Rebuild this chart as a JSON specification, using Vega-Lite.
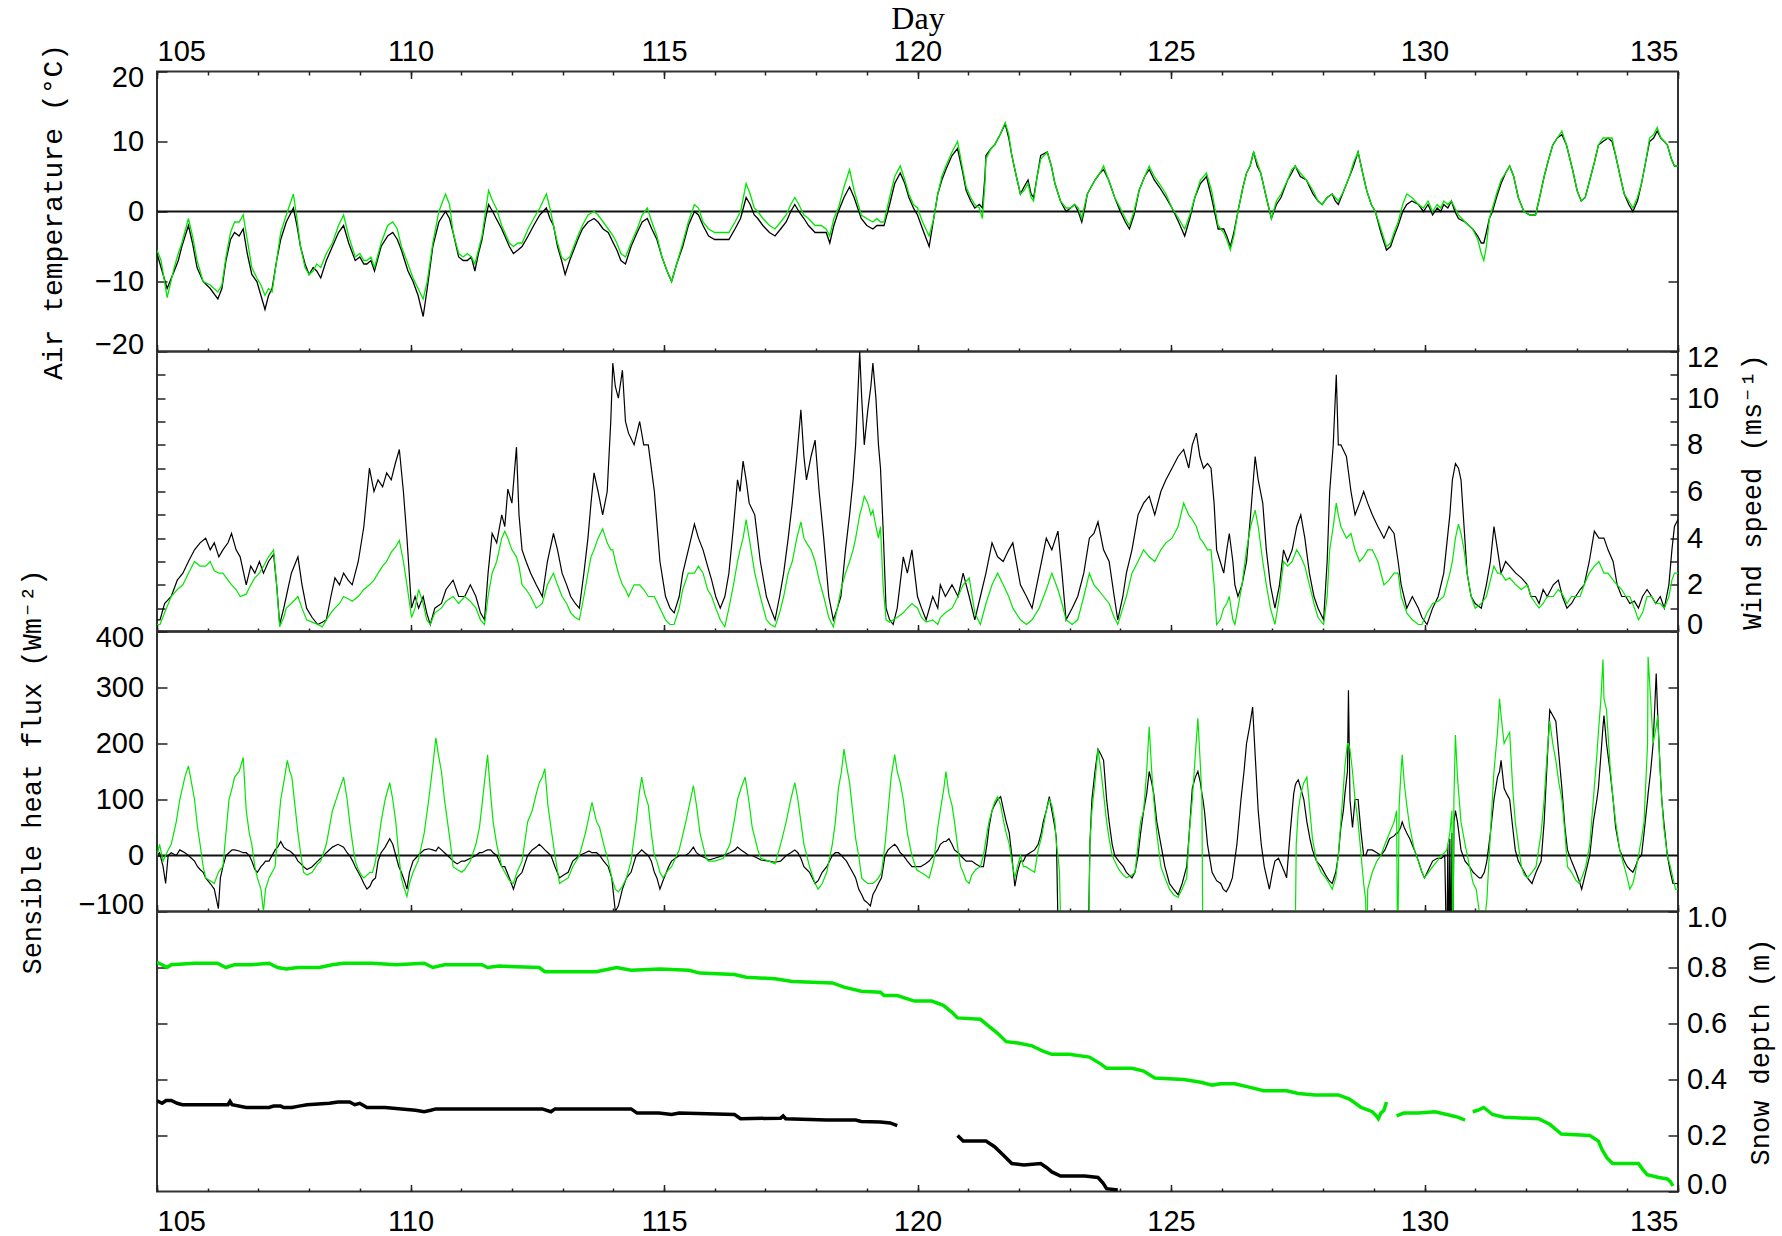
{
"$schema":"https://vega.github.io/schema/vega-lite/v6.json",
"background":"white",
"padding":{"left":17,"top":1.5,"right":4,"bottom":2},
"spacing":0,
"bounds":"flush",
"config":{
 "view":{"stroke":"#333","strokeWidth":2},
 "axis":{"domain":false,"grid":false,"labelFont":"Liberation Sans, Arial, sans-serif","labelFontSize":29,"labelColor":"#000","labelOverlap":false,"labelBound":false,"tickColor":"#222","tickWidth":1.5,"titleFont":"Liberation Mono, DejaVu Sans Mono, monospace","titleFontSize":27,"titleFontWeight":"normal","titleColor":"#000"}
},
"datasets":{
"temp":[
{"d":105.00,"k":-6,"g":-5.5},{"d":105.08,"k":-8,"g":-7},{"d":105.20,"k":-11,"g":-12.3},{"d":105.34,"k":-8.5,"g":-8},{"d":105.42,"k":-7,"g":-6},{"d":105.49,"k":-5,"g":-4.5},{"d":105.62,"k":-2,"g":-1},{"d":105.70,"k":-4.5,"g":-3.5},{"d":105.79,"k":-8,"g":-7},{"d":105.91,"k":-10,"g":-10},
{"d":106.05,"k":-11,"g":-10.5},{"d":106.20,"k":-12.5,"g":-11.5},{"d":106.28,"k":-11,"g":-10.5},{"d":106.36,"k":-7,"g":-6.5},{"d":106.45,"k":-4,"g":-3},{"d":106.53,"k":-3,"g":-1.5},{"d":106.62,"k":-3.5,"g":-1.5},{"d":106.70,"k":-2.5,"g":-0.5},{"d":106.78,"k":-6,"g":-4},{"d":106.87,"k":-9,"g":-8},{"d":106.97,"k":-10,"g":-9.5},
{"d":107.05,"k":-12,"g":-10.5},{"d":107.13,"k":-14,"g":-12},{"d":107.20,"k":-12,"g":-11},{"d":107.27,"k":-11,"g":-11.5},{"d":107.36,"k":-7,"g":-7},{"d":107.44,"k":-4,"g":-3},{"d":107.55,"k":-1.5,"g":-0.5},{"d":107.69,"k":0.5,"g":2.5},{"d":107.76,"k":-2,"g":-1},{"d":107.83,"k":-5,"g":-5},{"d":107.92,"k":-7.5,"g":-8},
{"d":108.00,"k":-9,"g":-9},{"d":108.08,"k":-8,"g":-8.5},{"d":108.15,"k":-8.5,"g":-7.5},{"d":108.23,"k":-9.5,"g":-8},{"d":108.34,"k":-7,"g":-6},{"d":108.46,"k":-5,"g":-4.5},{"d":108.58,"k":-3,"g":-2},{"d":108.68,"k":-2,"g":-0.5},{"d":108.78,"k":-4.5,"g":-3.5},{"d":108.91,"k":-7,"g":-6.5},
{"d":109.00,"k":-6.5,"g":-6},{"d":109.08,"k":-7.5,"g":-7},{"d":109.14,"k":-7.5,"g":-7},{"d":109.22,"k":-7,"g":-6.5},{"d":109.29,"k":-8.5,"g":-8},{"d":109.42,"k":-5,"g":-4.5},{"d":109.55,"k":-3.5,"g":-2},{"d":109.65,"k":-3,"g":-1.5},{"d":109.74,"k":-4,"g":-2.5},{"d":109.82,"k":-5.5,"g":-5},{"d":109.95,"k":-8.5,"g":-7.5},
{"d":110.05,"k":-10,"g":-9.5},{"d":110.15,"k":-12,"g":-11},{"d":110.25,"k":-15,"g":-12.5},{"d":110.33,"k":-11,"g":-10},{"d":110.44,"k":-5,"g":-4.5},{"d":110.56,"k":-1.5,"g":0},{"d":110.69,"k":0,"g":2.5},{"d":110.77,"k":-1,"g":1},{"d":110.84,"k":-3,"g":-3},{"d":110.95,"k":-6.5,"g":-6},
{"d":111.04,"k":-7,"g":-6.5},{"d":111.12,"k":-7,"g":-6},{"d":111.20,"k":-6.5,"g":-6.5},{"d":111.27,"k":-8.5,"g":-7.5},{"d":111.34,"k":-6,"g":-5.5},{"d":111.41,"k":-4,"g":-3.5},{"d":111.48,"k":-1,"g":0},{"d":111.54,"k":1,"g":3},{"d":111.62,"k":0,"g":1.5},{"d":111.69,"k":-1,"g":0.5},{"d":111.80,"k":-2.5,"g":-2},{"d":111.86,"k":-3.5,"g":-3},{"d":111.95,"k":-5,"g":-4.5},
{"d":112.03,"k":-6,"g":-5},{"d":112.12,"k":-5.5,"g":-4.5},{"d":112.20,"k":-5,"g":-4.5},{"d":112.32,"k":-3.5,"g":-2.5},{"d":112.43,"k":-2,"g":-1},{"d":112.55,"k":-0.5,"g":0.5},{"d":112.68,"k":0.5,"g":2.5},{"d":112.75,"k":-1,"g":0.5},{"d":112.82,"k":-2,"g":-2},{"d":112.90,"k":-5,"g":-4.5},{"d":112.98,"k":-7,"g":-6.5},
{"d":113.05,"k":-9,"g":-7},{"d":113.14,"k":-7,"g":-6.5},{"d":113.22,"k":-5.5,"g":-5},{"d":113.30,"k":-4,"g":-3.5},{"d":113.39,"k":-2.5,"g":-2},{"d":113.50,"k":-1.5,"g":-0.5},{"d":113.62,"k":-1,"g":0},{"d":113.70,"k":-1.5,"g":-0.5},{"d":113.80,"k":-2.5,"g":-1.5},{"d":113.90,"k":-3,"g":-2.5},
{"d":114.00,"k":-4.5,"g":-3.5},{"d":114.07,"k":-5.5,"g":-4.5},{"d":114.15,"k":-7,"g":-6},{"d":114.24,"k":-7.5,"g":-6.5},{"d":114.35,"k":-5,"g":-4.5},{"d":114.47,"k":-3,"g":-2.5},{"d":114.57,"k":-1.5,"g":-0.5},{"d":114.67,"k":-1,"g":0.5},{"d":114.76,"k":-2.5,"g":-1.5},{"d":114.86,"k":-4,"g":-3.5},{"d":114.96,"k":-6.5,"g":-6.5},
{"d":115.06,"k":-8.5,"g":-8.5},{"d":115.15,"k":-10,"g":-10},{"d":115.25,"k":-7.5,"g":-7.5},{"d":115.37,"k":-5,"g":-4.5},{"d":115.48,"k":-2,"g":-1.5},{"d":115.60,"k":0,"g":1},{"d":115.68,"k":-0.5,"g":0.5},{"d":115.77,"k":-2,"g":-1.5},{"d":115.88,"k":-3.5,"g":-2.5},
{"d":116.00,"k":-4,"g":-3},{"d":116.14,"k":-4,"g":-3},{"d":116.28,"k":-4,"g":-3},{"d":116.40,"k":-2.5,"g":-1.5},{"d":116.51,"k":-1,"g":0},{"d":116.62,"k":2,"g":4},{"d":116.70,"k":1,"g":2.5},{"d":116.78,"k":-0.5,"g":0.5},{"d":116.85,"k":-1,"g":0},{"d":116.95,"k":-2,"g":-1},
{"d":117.08,"k":-3,"g":-2},{"d":117.19,"k":-3.5,"g":-2.5},{"d":117.30,"k":-2.5,"g":-1.5},{"d":117.41,"k":-1.5,"g":-0.5},{"d":117.50,"k":0,"g":1},{"d":117.58,"k":1,"g":2},{"d":117.66,"k":0,"g":1},{"d":117.76,"k":-1,"g":-0.5},{"d":117.85,"k":-2,"g":-1},{"d":117.98,"k":-3,"g":-2},
{"d":118.10,"k":-3,"g":-2},{"d":118.20,"k":-3,"g":-2.5},{"d":118.27,"k":-4.5,"g":-3.5},{"d":118.35,"k":-2,"g":-1},{"d":118.44,"k":0,"g":0.5},{"d":118.55,"k":2,"g":3.5},{"d":118.66,"k":3.5,"g":6},{"d":118.75,"k":2,"g":3},{"d":118.89,"k":-1,"g":-0.5},
{"d":119.00,"k":-2,"g":-1},{"d":119.12,"k":-2.5,"g":-1.5},{"d":119.20,"k":-2,"g":-1},{"d":119.27,"k":-2,"g":-1.5},{"d":119.34,"k":-2,"g":-1.5},{"d":119.45,"k":1,"g":2},{"d":119.55,"k":4,"g":5},{"d":119.66,"k":5.5,"g":6.5},{"d":119.75,"k":4,"g":4.5},{"d":119.83,"k":2,"g":2.5},{"d":119.92,"k":0.5,"g":1},
{"d":120.00,"k":-0.5,"g":0.5},{"d":120.10,"k":-2.5,"g":-1.5},{"d":120.23,"k":-5,"g":-3.5},{"d":120.32,"k":-1,"g":-1},{"d":120.40,"k":2.5,"g":2.5},{"d":120.48,"k":4.5,"g":5},{"d":120.56,"k":6,"g":6.5},{"d":120.68,"k":8,"g":8.5},{"d":120.79,"k":9,"g":10},{"d":120.88,"k":6,"g":6.5},{"d":120.96,"k":3,"g":3.5},
{"d":121.05,"k":1.5,"g":2},{"d":121.13,"k":0.5,"g":1},{"d":121.22,"k":1,"g":0.5},{"d":121.28,"k":0.5,"g":-1},{"d":121.33,"k":5,"g":4},{"d":121.35,"k":8,"g":7.5},{"d":121.45,"k":9,"g":9},{"d":121.52,"k":9.5,"g":9.5},{"d":121.63,"k":11,"g":11},{"d":121.73,"k":12.5,"g":12.7},{"d":121.80,"k":10.5,"g":11},{"d":121.86,"k":8,"g":8},{"d":121.95,"k":5,"g":5},
{"d":122.03,"k":2.5,"g":2.5},{"d":122.10,"k":3.5,"g":3},{"d":122.18,"k":4.5,"g":4},{"d":122.24,"k":2.5,"g":2},{"d":122.29,"k":2,"g":1.5},{"d":122.36,"k":5,"g":5},{"d":122.43,"k":8,"g":7.5},{"d":122.56,"k":8.5,"g":8.5},{"d":122.64,"k":6.5,"g":6.5},{"d":122.71,"k":4,"g":4},{"d":122.82,"k":1.5,"g":1.5},{"d":122.93,"k":0,"g":0.5},
{"d":123.02,"k":0.5,"g":0.5},{"d":123.10,"k":1,"g":1},{"d":123.17,"k":0,"g":0.5},{"d":123.24,"k":-1.5,"g":-1},{"d":123.30,"k":0.5,"g":1},{"d":123.35,"k":2.5,"g":2.5},{"d":123.50,"k":4.5,"g":4.5},{"d":123.60,"k":5.5,"g":5.5},{"d":123.67,"k":6,"g":6.5},{"d":123.77,"k":4.5,"g":4.5},{"d":123.89,"k":2,"g":2},
{"d":124.00,"k":0,"g":0.5},{"d":124.10,"k":-1.5,"g":-1},{"d":124.18,"k":-2.5,"g":-2},{"d":124.27,"k":-0.5,"g":0},{"d":124.37,"k":3,"g":3},{"d":124.48,"k":5,"g":5},{"d":124.57,"k":6,"g":6.5},{"d":124.67,"k":4.5,"g":5},{"d":124.77,"k":3.5,"g":4},{"d":124.90,"k":2,"g":2.5},
{"d":125.02,"k":0.5,"g":0.5},{"d":125.15,"k":-1.5,"g":-1},{"d":125.27,"k":-3.5,"g":-2.5},{"d":125.37,"k":-1,"g":-0.5},{"d":125.47,"k":2,"g":2},{"d":125.58,"k":4,"g":4.5},{"d":125.70,"k":5,"g":5.5},{"d":125.80,"k":2,"g":3},{"d":125.93,"k":-2.5,"g":-2},
{"d":126.04,"k":-2.5,"g":-3},{"d":126.10,"k":-3.5,"g":-4},{"d":126.17,"k":-5,"g":-5.5},{"d":126.24,"k":-3,"g":-3.5},{"d":126.32,"k":0,"g":0},{"d":126.42,"k":3.5,"g":3.5},{"d":126.49,"k":5.5,"g":5.5},{"d":126.56,"k":6.5,"g":6.5},{"d":126.63,"k":8.5,"g":8.5},{"d":126.70,"k":6.5,"g":7},{"d":126.77,"k":5.5,"g":5.5},{"d":126.88,"k":2,"g":2},{"d":126.98,"k":-1,"g":-1},
{"d":127.08,"k":1,"g":1.5},{"d":127.17,"k":2,"g":2.5},{"d":127.30,"k":4.5,"g":4.5},{"d":127.38,"k":5.5,"g":6},{"d":127.45,"k":6.5,"g":6.5},{"d":127.55,"k":5,"g":5.5},{"d":127.67,"k":4.5,"g":4.5},{"d":127.80,"k":2.5,"g":3},{"d":127.90,"k":1.5,"g":1.5},{"d":127.98,"k":1,"g":1},
{"d":128.08,"k":2,"g":2},{"d":128.18,"k":2.5,"g":2.5},{"d":128.24,"k":1.5,"g":2},{"d":128.30,"k":1,"g":1.5},{"d":128.41,"k":3,"g":3},{"d":128.52,"k":5,"g":5},{"d":128.60,"k":6.5,"g":7},{"d":128.69,"k":8.5,"g":8.5},{"d":128.78,"k":5.5,"g":5.5},{"d":128.86,"k":3,"g":3},{"d":128.95,"k":1,"g":1},
{"d":129.03,"k":0,"g":0},{"d":129.14,"k":-3,"g":-2.5},{"d":129.25,"k":-5.5,"g":-5},{"d":129.33,"k":-5,"g":-4.5},{"d":129.40,"k":-3.5,"g":-3},{"d":129.48,"k":-2,"g":-1.5},{"d":129.57,"k":0,"g":1},{"d":129.65,"k":1,"g":2.5},{"d":129.75,"k":1.5,"g":2},{"d":129.88,"k":1,"g":1},{"d":129.98,"k":0,"g":0.5},
{"d":130.07,"k":1,"g":1.5},{"d":130.16,"k":-0.5,"g":0},{"d":130.25,"k":0.5,"g":1},{"d":130.32,"k":0,"g":0.5},{"d":130.38,"k":1,"g":1.5},{"d":130.46,"k":0.5,"g":1},{"d":130.53,"k":1.5,"g":1.5},{"d":130.60,"k":0,"g":0.5},{"d":130.67,"k":-1,"g":-0.5},{"d":130.80,"k":-1.5,"g":-1.5},{"d":130.95,"k":-2.5,"g":-2.5},
{"d":131.05,"k":-3.5,"g":-4},{"d":131.12,"k":-4.5,"g":-6},{"d":131.17,"k":-4.5,"g":-7},{"d":131.22,"k":-3,"g":-5},{"d":131.28,"k":-1,"g":-1},{"d":131.34,"k":0,"g":0.5},{"d":131.42,"k":2,"g":2.5},{"d":131.51,"k":4,"g":4.5},{"d":131.60,"k":5.5,"g":5.5},{"d":131.68,"k":6.5,"g":6.5},{"d":131.76,"k":5,"g":5},{"d":131.85,"k":2,"g":2},{"d":131.96,"k":0,"g":0},
{"d":132.08,"k":-0.5,"g":-0.5},{"d":132.19,"k":-0.5,"g":-0.5},{"d":132.27,"k":2,"g":2},{"d":132.36,"k":5,"g":5},{"d":132.45,"k":7.5,"g":7.5},{"d":132.53,"k":9.5,"g":9.5},{"d":132.62,"k":10.5,"g":10.5},{"d":132.71,"k":11,"g":11.5},{"d":132.80,"k":9.5,"g":9.5},{"d":132.92,"k":6,"g":6},
{"d":133.01,"k":3,"g":3},{"d":133.09,"k":1.5,"g":1.5},{"d":133.17,"k":2,"g":2},{"d":133.26,"k":4.5,"g":4.5},{"d":133.35,"k":7,"g":7},{"d":133.43,"k":9.5,"g":9.5},{"d":133.52,"k":10,"g":10.5},{"d":133.62,"k":10.5,"g":10.5},{"d":133.70,"k":10,"g":10.5},{"d":133.77,"k":8,"g":8},{"d":133.86,"k":5,"g":5},{"d":133.94,"k":2.5,"g":2.5},
{"d":134.03,"k":1,"g":1.5},{"d":134.11,"k":0,"g":0.5},{"d":134.20,"k":1.5,"g":2},{"d":134.28,"k":4,"g":4},{"d":134.36,"k":7,"g":7},{"d":134.44,"k":10,"g":10.5},{"d":134.52,"k":10.5,"g":11},{"d":134.59,"k":11.5,"g":12},{"d":134.66,"k":10.5,"g":10.5},{"d":134.73,"k":10,"g":10},{"d":134.79,"k":9.5,"g":9.5},{"d":134.87,"k":7.5,"g":7.5},{"d":134.93,"k":6.5,"g":6.5},{"d":135.00,"k":6.5,"g":6.5}
],
"wind":[
{"d":105.00,"k":0.5,"g":0.3},{"d":105.06,"k":0.5,"g":0.3},{"d":105.15,"k":1.2,"g":0.8},{"d":105.28,"k":1.5,"g":1.5},{"d":105.40,"k":2.2,"g":1.8},{"d":105.51,"k":2.5,"g":2},{"d":105.62,"k":3,"g":2.5},{"d":105.74,"k":3.5,"g":3},{"d":105.85,"k":3.8,"g":2.8},{"d":105.96,"k":4,"g":2.8},
{"d":106.05,"k":3.5,"g":3},{"d":106.13,"k":3.8,"g":2.6},{"d":106.22,"k":3.2,"g":2.5},{"d":106.30,"k":3.5,"g":2.5},{"d":106.40,"k":3.8,"g":2.2},{"d":106.47,"k":4.2,"g":2},{"d":106.56,"k":3.5,"g":1.8},{"d":106.64,"k":3.2,"g":1.5},{"d":106.76,"k":2,"g":1.6},{"d":106.85,"k":2.8,"g":2},{"d":106.93,"k":2.5,"g":2.3},
{"d":107.02,"k":3,"g":2.5},{"d":107.10,"k":2.5,"g":2.8},{"d":107.20,"k":3,"g":3.2},{"d":107.30,"k":3.3,"g":3.5},{"d":107.36,"k":2,"g":2},{"d":107.42,"k":0.3,"g":0.2},{"d":107.50,"k":1,"g":0.6},{"d":107.55,"k":1.5,"g":1},{"d":107.65,"k":2.5,"g":1.2},{"d":107.78,"k":3.2,"g":1.5},{"d":107.86,"k":2,"g":1},{"d":107.95,"k":1,"g":0.5},
{"d":108.06,"k":0.6,"g":0.4},{"d":108.17,"k":0.3,"g":0.3},{"d":108.26,"k":0.4,"g":0.2},{"d":108.34,"k":0.5,"g":0.5},{"d":108.43,"k":1.5,"g":0.8},{"d":108.51,"k":2.3,"g":1},{"d":108.60,"k":2,"g":1.2},{"d":108.68,"k":2.5,"g":1.5},{"d":108.77,"k":2.2,"g":1.4},{"d":108.85,"k":2,"g":1.3},{"d":108.97,"k":3,"g":1.5},
{"d":109.08,"k":4.5,"g":1.8},{"d":109.19,"k":7,"g":2},{"d":109.28,"k":6,"g":2.2},{"d":109.36,"k":6.5,"g":2.5},{"d":109.45,"k":6.2,"g":2.8},{"d":109.53,"k":6.8,"g":3},{"d":109.62,"k":6.5,"g":3.4},{"d":109.70,"k":7.2,"g":3.6},{"d":109.78,"k":7.8,"g":3.9},{"d":109.86,"k":6,"g":3},{"d":109.93,"k":4,"g":2},
{"d":110.02,"k":1,"g":0.6},{"d":110.09,"k":1.5,"g":1},{"d":110.16,"k":1,"g":1.8},{"d":110.25,"k":1.5,"g":1.2},{"d":110.32,"k":0.8,"g":0.5},{"d":110.39,"k":0.3,"g":0.3},{"d":110.48,"k":1,"g":0.8},{"d":110.61,"k":1.2,"g":1},{"d":110.70,"k":1.8,"g":1.3},{"d":110.84,"k":2.2,"g":1.5},{"d":110.95,"k":1.5,"g":1.2},
{"d":111.07,"k":1.5,"g":1.5},{"d":111.18,"k":2,"g":1.3},{"d":111.29,"k":1.5,"g":1},{"d":111.38,"k":0.8,"g":0.5},{"d":111.46,"k":0.5,"g":0.3},{"d":111.53,"k":2.5,"g":1.5},{"d":111.61,"k":4.2,"g":2.5},{"d":111.70,"k":3.8,"g":3},{"d":111.80,"k":5,"g":4},{"d":111.86,"k":4.5,"g":4.3},{"d":111.92,"k":6.1,"g":4},
{"d":112.00,"k":5.5,"g":3.5},{"d":112.09,"k":7.9,"g":3.2},{"d":112.14,"k":5,"g":2.8},{"d":112.20,"k":3.5,"g":2},{"d":112.28,"k":3,"g":1.8},{"d":112.37,"k":2.5,"g":1.5},{"d":112.48,"k":2,"g":1},{"d":112.60,"k":1.5,"g":1.2},{"d":112.70,"k":3,"g":2},{"d":112.82,"k":4.2,"g":2.5},{"d":112.90,"k":3.5,"g":2},{"d":112.99,"k":2.5,"g":1.5},
{"d":113.08,"k":2,"g":1.2},{"d":113.16,"k":1.5,"g":0.8},{"d":113.25,"k":1.2,"g":0.6},{"d":113.33,"k":1,"g":0.5},{"d":113.42,"k":2.5,"g":1.5},{"d":113.50,"k":4,"g":2.5},{"d":113.56,"k":5.5,"g":3.2},{"d":113.62,"k":6.8,"g":3.5},{"d":113.70,"k":6,"g":4},{"d":113.79,"k":5,"g":4.4},{"d":113.88,"k":6,"g":3.8},{"d":113.95,"k":9,"g":3.5},{"d":113.99,"k":11.5,"g":3.5},
{"d":114.04,"k":10.5,"g":3},{"d":114.10,"k":10,"g":2.5},{"d":114.18,"k":11.2,"g":2},{"d":114.24,"k":9,"g":1.8},{"d":114.30,"k":8.5,"g":1.5},{"d":114.41,"k":8,"g":2},{"d":114.52,"k":9,"g":2},{"d":114.60,"k":8,"g":1.8},{"d":114.69,"k":8,"g":1.5},{"d":114.75,"k":7,"g":1.5},{"d":114.81,"k":6,"g":1.5},{"d":114.92,"k":3,"g":1},
{"d":115.03,"k":1.5,"g":0.5},{"d":115.12,"k":1,"g":0.3},{"d":115.20,"k":0.8,"g":0.3},{"d":115.30,"k":1.5,"g":1},{"d":115.37,"k":2.5,"g":1.8},{"d":115.48,"k":3.5,"g":2.5},{"d":115.60,"k":4.6,"g":2.5},{"d":115.68,"k":4,"g":2.8},{"d":115.77,"k":3.5,"g":2.5},{"d":115.86,"k":2.8,"g":1.8},{"d":115.94,"k":2.2,"g":1.5},
{"d":116.02,"k":1.5,"g":1},{"d":116.11,"k":1,"g":0.5},{"d":116.20,"k":1.5,"g":0.2},{"d":116.28,"k":2.5,"g":1},{"d":116.37,"k":4.5,"g":2},{"d":116.45,"k":6.5,"g":3},{"d":116.50,"k":6,"g":3.5},{"d":116.56,"k":7.3,"g":4},{"d":116.62,"k":6.5,"g":4.8},{"d":116.68,"k":5.5,"g":4},{"d":116.79,"k":5,"g":2.5},{"d":116.90,"k":3,"g":1.5},
{"d":117.02,"k":1.5,"g":0.5},{"d":117.10,"k":1,"g":0.3},{"d":117.19,"k":0.5,"g":0.2},{"d":117.28,"k":1.5,"g":0.8},{"d":117.36,"k":2.5,"g":1.5},{"d":117.45,"k":4,"g":2.5},{"d":117.53,"k":5.5,"g":3},{"d":117.62,"k":7.5,"g":4},{"d":117.70,"k":9.5,"g":4.7},{"d":117.76,"k":7.5,"g":4},{"d":117.81,"k":6.5,"g":3.8},{"d":117.90,"k":7.5,"g":3.5},{"d":117.98,"k":8.2,"g":3},
{"d":118.06,"k":6,"g":2.2},{"d":118.15,"k":4,"g":1.5},{"d":118.25,"k":1.5,"g":0.6},{"d":118.34,"k":0.5,"g":0.2},{"d":118.42,"k":1,"g":1},{"d":118.49,"k":1.5,"g":1.8},{"d":118.58,"k":3.5,"g":2.5},{"d":118.66,"k":5,"g":3},{"d":118.73,"k":6.5,"g":3.5},{"d":118.78,"k":8,"g":4},{"d":118.82,"k":10,"g":4.5},{"d":118.86,"k":12,"g":5},{"d":118.90,"k":10,"g":5.3},{"d":118.95,"k":8,"g":5.8},
{"d":119.02,"k":9.5,"g":5.5},{"d":119.08,"k":10.5,"g":5},{"d":119.12,"k":11.5,"g":5.2},{"d":119.18,"k":10,"g":4.5},{"d":119.23,"k":8,"g":4},{"d":119.27,"k":7,"g":4.5},{"d":119.32,"k":4.5,"g":2},{"d":119.38,"k":1,"g":0.5},{"d":119.45,"k":0.5,"g":0.4},{"d":119.52,"k":0.3,"g":0.5},{"d":119.60,"k":1,"g":0.6},{"d":119.72,"k":3.2,"g":0.8},{"d":119.80,"k":2.5,"g":1},{"d":119.89,"k":3.5,"g":1.2},
{"d":120.00,"k":1.5,"g":1},{"d":120.08,"k":1,"g":0.6},{"d":120.17,"k":0.5,"g":0.4},{"d":120.30,"k":1.5,"g":0.5},{"d":120.40,"k":1,"g":0.3},{"d":120.45,"k":2,"g":0.6},{"d":120.55,"k":1.5,"g":0.8},{"d":120.68,"k":2,"g":1},{"d":120.80,"k":1.5,"g":1.5},{"d":120.90,"k":2.5,"g":2},
{"d":121.02,"k":1.5,"g":2.3},{"d":121.13,"k":0.5,"g":0.8},{"d":121.24,"k":1.5,"g":0.3},{"d":121.35,"k":2.5,"g":1.2},{"d":121.47,"k":3.8,"g":2},{"d":121.58,"k":3.2,"g":2.5},{"d":121.69,"k":3,"g":2},{"d":121.80,"k":3.5,"g":1.5},{"d":121.88,"k":3.8,"g":1},
{"d":122.03,"k":2,"g":0.5},{"d":122.15,"k":1.5,"g":0.3},{"d":122.26,"k":1,"g":0.5},{"d":122.40,"k":2.5,"g":1},{"d":122.54,"k":4,"g":1.8},{"d":122.65,"k":3.5,"g":2.5},{"d":122.77,"k":4.3,"g":1.8},{"d":122.85,"k":2.5,"g":1.2},{"d":122.93,"k":0.5,"g":0.5},
{"d":123.05,"k":1,"g":0.3},{"d":123.16,"k":1.5,"g":0.5},{"d":123.28,"k":2.5,"g":1.5},{"d":123.39,"k":4,"g":2.5},{"d":123.48,"k":4.2,"g":2},{"d":123.56,"k":4.7,"g":1.8},{"d":123.67,"k":3.5,"g":1.5},{"d":123.78,"k":3,"g":1.2},{"d":123.88,"k":1.5,"g":0.6},{"d":123.95,"k":0.5,"g":0.3},
{"d":124.05,"k":1.5,"g":1},{"d":124.12,"k":2.5,"g":1.5},{"d":124.23,"k":3.5,"g":2.5},{"d":124.35,"k":5,"g":3},{"d":124.46,"k":5.5,"g":3.5},{"d":124.57,"k":5.8,"g":3.2},{"d":124.68,"k":5,"g":3},{"d":124.80,"k":6,"g":3.5},{"d":124.90,"k":6.5,"g":3.8},
{"d":125.02,"k":7,"g":4},{"d":125.14,"k":7.5,"g":4.5},{"d":125.25,"k":7.8,"g":5.5},{"d":125.35,"k":7,"g":5},{"d":125.42,"k":8,"g":4.8},{"d":125.50,"k":8.5,"g":4.5},{"d":125.57,"k":7.5,"g":4},{"d":125.64,"k":7,"g":3.8},{"d":125.72,"k":7.2,"g":3.5},{"d":125.79,"k":7,"g":3.5},{"d":125.85,"k":5.5,"g":2},{"d":125.90,"k":3.5,"g":0.3},{"d":125.97,"k":3,"g":0.5},
{"d":126.04,"k":2.5,"g":1},{"d":126.10,"k":3.5,"g":1.2},{"d":126.15,"k":4.2,"g":1.5},{"d":126.22,"k":3,"g":0.5},{"d":126.26,"k":2,"g":0.3},{"d":126.32,"k":1.5,"g":1},{"d":126.40,"k":2,"g":2},{"d":126.49,"k":3,"g":3.5},{"d":126.57,"k":5,"g":4.5},{"d":126.66,"k":7.5,"g":5.2},{"d":126.72,"k":6.5,"g":4.5},{"d":126.81,"k":5.5,"g":3},{"d":126.88,"k":3.5,"g":2},{"d":126.96,"k":2,"g":1},
{"d":127.05,"k":1,"g":0.3},{"d":127.14,"k":2,"g":1.5},{"d":127.22,"k":3.5,"g":3},{"d":127.30,"k":3,"g":2.8},{"d":127.39,"k":3.5,"g":3},{"d":127.48,"k":4.5,"g":3.5},{"d":127.56,"k":5,"g":3.2},{"d":127.64,"k":4,"g":2.8},{"d":127.73,"k":2.5,"g":2},{"d":127.82,"k":1.5,"g":1.2},{"d":127.90,"k":1,"g":0.6},
{"d":128.01,"k":0.5,"g":0.3},{"d":128.08,"k":3,"g":1.5},{"d":128.13,"k":6,"g":3.5},{"d":128.20,"k":8,"g":4.5},{"d":128.26,"k":11,"g":5.5},{"d":128.30,"k":8,"g":5},{"d":128.35,"k":8,"g":4.5},{"d":128.46,"k":7.5,"g":4},{"d":128.55,"k":6,"g":4.2},{"d":128.63,"k":5,"g":3.5},{"d":128.72,"k":5.5,"g":3},{"d":128.80,"k":6,"g":3.2},{"d":128.88,"k":5.5,"g":3.5},{"d":128.97,"k":5,"g":3.5},
{"d":129.08,"k":4.5,"g":3},{"d":129.20,"k":4,"g":2},{"d":129.30,"k":4.5,"g":2.2},{"d":129.40,"k":4.2,"g":2.5},{"d":129.48,"k":3,"g":2.5},{"d":129.54,"k":2,"g":1.5},{"d":129.65,"k":1,"g":0.8},{"d":129.76,"k":1.5,"g":0.5},{"d":129.88,"k":1,"g":0.3},{"d":129.95,"k":0.6,"g":0.3},
{"d":130.05,"k":0.3,"g":0.8},{"d":130.16,"k":1,"g":1.2},{"d":130.27,"k":1.5,"g":1.3},{"d":130.38,"k":2.5,"g":1.5},{"d":130.50,"k":5,"g":2.5},{"d":130.55,"k":6.5,"g":3},{"d":130.61,"k":7.2,"g":4},{"d":130.67,"k":7,"g":4.6},{"d":130.72,"k":6.5,"g":4.2},{"d":130.78,"k":4.5,"g":3.5},{"d":130.84,"k":2.5,"g":2.5},{"d":130.92,"k":1.5,"g":1.5},
{"d":131.00,"k":1.2,"g":1},{"d":131.12,"k":1,"g":1.2},{"d":131.22,"k":2,"g":1.5},{"d":131.30,"k":3,"g":2.2},{"d":131.37,"k":4.5,"g":2.8},{"d":131.44,"k":3.5,"g":2.5},{"d":131.51,"k":2.5,"g":2.5},{"d":131.60,"k":3,"g":2.2},{"d":131.68,"k":2.8,"g":2.3},{"d":131.80,"k":2.5,"g":2},{"d":131.91,"k":2.3,"g":1.8},
{"d":132.03,"k":2,"g":2},{"d":132.10,"k":1.5,"g":1.5},{"d":132.19,"k":1.5,"g":1.2},{"d":132.26,"k":1.2,"g":1},{"d":132.34,"k":1.8,"g":1.2},{"d":132.42,"k":1.5,"g":1.5},{"d":132.54,"k":2,"g":1.5},{"d":132.64,"k":2.2,"g":1.8},{"d":132.72,"k":1.5,"g":1.6},{"d":132.81,"k":1,"g":1.2},{"d":132.90,"k":1.2,"g":1.5},{"d":132.98,"k":1.5,"g":1.5},
{"d":133.07,"k":1.8,"g":1.5},{"d":133.15,"k":2,"g":2},{"d":133.25,"k":3,"g":2.5},{"d":133.35,"k":4.3,"g":2.8},{"d":133.44,"k":4,"g":3},{"d":133.54,"k":4,"g":2.5},{"d":133.62,"k":3.5,"g":2.5},{"d":133.72,"k":3,"g":2.2},{"d":133.80,"k":2,"g":2},{"d":133.89,"k":1.5,"g":1.8},{"d":133.97,"k":1.5,"g":1.5},
{"d":134.05,"k":1.2,"g":1.5},{"d":134.14,"k":1.3,"g":1},{"d":134.22,"k":1,"g":0.5},{"d":134.30,"k":1.5,"g":0.8},{"d":134.39,"k":1.8,"g":1.5},{"d":134.48,"k":1.5,"g":1.5},{"d":134.56,"k":1.2,"g":1.2},{"d":134.65,"k":1.5,"g":1.2},{"d":134.73,"k":1,"g":1},{"d":134.82,"k":2,"g":1.5},{"d":134.88,"k":3.5,"g":2.2},{"d":134.93,"k":4.5,"g":2.5},{"d":135.00,"k":4.8,"g":2.5}
],
"flux":[
{"d":105.00,"k":0,"g":0},{"d":105.05,"k":5,"g":20},{"d":105.12,"k":-20,"g":-10},{"d":105.17,"k":-50,"g":0},{"d":105.22,"k":0,"g":10},{"d":105.28,"k":5,"g":20},{"d":105.38,"k":0,"g":60},{"d":105.45,"k":10,"g":100},{"d":105.55,"k":5,"g":140},{"d":105.62,"k":0,"g":160},{"d":105.68,"k":-5,"g":130},{"d":105.74,"k":-10,"g":100},{"d":105.80,"k":-20,"g":50},{"d":105.85,"k":-25,"g":20},{"d":105.91,"k":-30,"g":-20},{"d":105.96,"k":-40,"g":-40},
{"d":106.05,"k":-50,"g":-45},{"d":106.13,"k":-60,"g":-50},{"d":106.21,"k":-95,"g":-30},{"d":106.25,"k":-40,"g":-25},{"d":106.30,"k":-20,"g":-20},{"d":106.36,"k":0,"g":40},{"d":106.42,"k":5,"g":100},{"d":106.48,"k":10,"g":120},{"d":106.53,"k":10,"g":140},{"d":106.62,"k":8,"g":150},{"d":106.70,"k":5,"g":175},{"d":106.76,"k":5,"g":80},{"d":106.82,"k":0,"g":40},{"d":106.87,"k":-10,"g":20},{"d":106.93,"k":-25,"g":-20},{"d":106.98,"k":-30,"g":-40},
{"d":107.05,"k":-20,"g":-60},{"d":107.10,"k":-15,"g":-100},{"d":107.14,"k":-10,"g":-60},{"d":107.21,"k":-10,"g":-40},{"d":107.27,"k":0,"g":-30},{"d":107.33,"k":10,"g":-20},{"d":107.38,"k":15,"g":40},{"d":107.44,"k":25,"g":100},{"d":107.50,"k":15,"g":130},{"d":107.57,"k":10,"g":170},{"d":107.62,"k":8,"g":150},{"d":107.66,"k":5,"g":140},{"d":107.72,"k":0,"g":90},{"d":107.78,"k":-10,"g":40},{"d":107.84,"k":-15,"g":0},{"d":107.89,"k":-20,"g":-30},{"d":107.96,"k":-25,"g":-35},
{"d":108.06,"k":-20,"g":-30},{"d":108.17,"k":-10,"g":-15},{"d":108.23,"k":-5,"g":-10},{"d":108.34,"k":5,"g":20},{"d":108.46,"k":15,"g":80},{"d":108.57,"k":20,"g":110},{"d":108.68,"k":15,"g":140},{"d":108.75,"k":5,"g":100},{"d":108.80,"k":0,"g":60},{"d":108.86,"k":-10,"g":20},{"d":108.91,"k":-20,"g":-10},{"d":108.97,"k":-30,"g":-25},
{"d":109.03,"k":-40,"g":-35},{"d":109.08,"k":-50,"g":-40},{"d":109.14,"k":-60,"g":-35},{"d":109.20,"k":-55,"g":-30},{"d":109.25,"k":-45,"g":-30},{"d":109.31,"k":-40,"g":-10},{"d":109.36,"k":-10,"g":20},{"d":109.42,"k":5,"g":60},{"d":109.50,"k":15,"g":100},{"d":109.59,"k":30,"g":130},{"d":109.65,"k":20,"g":100},{"d":109.71,"k":0,"g":60},{"d":109.77,"k":-20,"g":0},{"d":109.82,"k":-30,"g":-40},{"d":109.88,"k":-45,"g":-60},{"d":109.93,"k":-60,"g":-73},{"d":109.98,"k":-30,"g":-50},
{"d":110.05,"k":-10,"g":-30},{"d":110.15,"k":0,"g":-10},{"d":110.27,"k":10,"g":40},{"d":110.36,"k":12,"g":100},{"d":110.44,"k":10,"g":160},{"d":110.50,"k":8,"g":210},{"d":110.55,"k":15,"g":180},{"d":110.61,"k":10,"g":150},{"d":110.67,"k":5,"g":100},{"d":110.73,"k":0,"g":60},{"d":110.79,"k":-5,"g":20},{"d":110.84,"k":-10,"g":-20},{"d":110.92,"k":-15,"g":-25},
{"d":111.01,"k":-10,"g":-30},{"d":111.07,"k":-10,"g":-25},{"d":111.18,"k":-5,"g":-10},{"d":111.29,"k":0,"g":20},{"d":111.36,"k":5,"g":50},{"d":111.41,"k":5,"g":90},{"d":111.47,"k":8,"g":140},{"d":111.52,"k":10,"g":180},{"d":111.58,"k":10,"g":110},{"d":111.63,"k":5,"g":60},{"d":111.70,"k":0,"g":20},{"d":111.80,"k":-20,"g":-20},{"d":111.86,"k":-20,"g":-30},{"d":111.95,"k":-40,"g":-45},
{"d":112.03,"k":-60,"g":-50},{"d":112.10,"k":-40,"g":-30},{"d":112.20,"k":-30,"g":-10},{"d":112.31,"k":0,"g":60},{"d":112.40,"k":10,"g":80},{"d":112.48,"k":15,"g":110},{"d":112.54,"k":20,"g":130},{"d":112.60,"k":15,"g":140},{"d":112.65,"k":10,"g":155},{"d":112.71,"k":5,"g":90},{"d":112.77,"k":0,"g":50},{"d":112.85,"k":-20,"g":0},{"d":112.94,"k":-40,"g":-50},
{"d":113.02,"k":-35,"g":-45},{"d":113.11,"k":-30,"g":-40},{"d":113.20,"k":-10,"g":-20},{"d":113.33,"k":0,"g":0},{"d":113.45,"k":5,"g":40},{"d":113.52,"k":8,"g":70},{"d":113.58,"k":5,"g":95},{"d":113.67,"k":5,"g":60},{"d":113.73,"k":0,"g":50},{"d":113.81,"k":-10,"g":20},{"d":113.90,"k":-20,"g":-10},{"d":113.97,"k":-40,"g":-40},
{"d":114.04,"k":-100,"g":-60},{"d":114.10,"k":-90,"g":-65},{"d":114.18,"k":-60,"g":-55},{"d":114.26,"k":-40,"g":-40},{"d":114.35,"k":-30,"g":-10},{"d":114.45,"k":0,"g":60},{"d":114.51,"k":5,"g":110},{"d":114.56,"k":10,"g":140},{"d":114.62,"k":5,"g":110},{"d":114.69,"k":0,"g":90},{"d":114.75,"k":-10,"g":40},{"d":114.81,"k":-30,"g":0},{"d":114.86,"k":-40,"g":-10},{"d":114.92,"k":-60,"g":-30},{"d":114.98,"k":-45,"g":-40},
{"d":115.09,"k":-20,"g":-25},{"d":115.15,"k":-10,"g":-20},{"d":115.30,"k":0,"g":10},{"d":115.43,"k":0,"g":60},{"d":115.50,"k":5,"g":90},{"d":115.58,"k":15,"g":125},{"d":115.64,"k":5,"g":90},{"d":115.71,"k":0,"g":40},{"d":115.83,"k":-5,"g":-5},{"d":115.88,"k":-8,"g":-10},
{"d":116.00,"k":-5,"g":-10},{"d":116.17,"k":0,"g":-5},{"d":116.30,"k":5,"g":20},{"d":116.40,"k":10,"g":70},{"d":116.45,"k":15,"g":100},{"d":116.52,"k":10,"g":120},{"d":116.60,"k":5,"g":140},{"d":116.67,"k":0,"g":100},{"d":116.74,"k":0,"g":50},{"d":116.85,"k":-5,"g":10},{"d":116.91,"k":-8,"g":-5},
{"d":117.07,"k":-10,"g":-10},{"d":117.19,"k":-12,"g":-15},{"d":117.30,"k":-10,"g":20},{"d":117.41,"k":0,"g":60},{"d":117.50,"k":5,"g":100},{"d":117.58,"k":10,"g":130},{"d":117.64,"k":5,"g":100},{"d":117.70,"k":-5,"g":60},{"d":117.76,"k":-20,"g":20},{"d":117.87,"k":-30,"g":-20},{"d":117.98,"k":-50,"g":-50},
{"d":118.04,"k":-45,"g":-60},{"d":118.12,"k":-30,"g":-50},{"d":118.21,"k":-20,"g":-30},{"d":118.32,"k":0,"g":20},{"d":118.38,"k":5,"g":60},{"d":118.44,"k":5,"g":120},{"d":118.50,"k":0,"g":150},{"d":118.55,"k":-5,"g":190},{"d":118.60,"k":-10,"g":160},{"d":118.66,"k":-20,"g":130},{"d":118.72,"k":-30,"g":80},{"d":118.78,"k":-40,"g":30},{"d":118.84,"k":-60,"g":0},{"d":118.90,"k":-70,"g":-40},{"d":118.95,"k":-80,"g":-45},
{"d":119.02,"k":-85,"g":-50},{"d":119.07,"k":-90,"g":-50},{"d":119.12,"k":-70,"g":-50},{"d":119.18,"k":-60,"g":-45},{"d":119.23,"k":-50,"g":-40},{"d":119.29,"k":-40,"g":-30},{"d":119.36,"k":0,"g":20},{"d":119.42,"k":10,"g":80},{"d":119.48,"k":15,"g":140},{"d":119.55,"k":20,"g":180},{"d":119.60,"k":15,"g":150},{"d":119.66,"k":5,"g":130},{"d":119.72,"k":0,"g":100},{"d":119.80,"k":-10,"g":40},{"d":119.89,"k":-20,"g":0},{"d":119.98,"k":-20,"g":-25},
{"d":120.06,"k":-20,"g":-30},{"d":120.15,"k":-15,"g":-35},{"d":120.23,"k":-10,"g":-40},{"d":120.32,"k":0,"g":-10},{"d":120.40,"k":10,"g":50},{"d":120.45,"k":20,"g":80},{"d":120.52,"k":25,"g":120},{"d":120.56,"k":25,"g":150},{"d":120.62,"k":30,"g":110},{"d":120.68,"k":20,"g":90},{"d":120.73,"k":10,"g":60},{"d":120.80,"k":5,"g":10},{"d":120.85,"k":0,"g":-20},{"d":120.90,"k":-5,"g":-30},{"d":120.96,"k":-10,"g":-45},
{"d":121.02,"k":-10,"g":-50},{"d":121.07,"k":-10,"g":-35},{"d":121.15,"k":-15,"g":-25},{"d":121.24,"k":-20,"g":-20},{"d":121.30,"k":-20,"g":0},{"d":121.37,"k":20,"g":40},{"d":121.41,"k":50,"g":60},{"d":121.47,"k":80,"g":80},{"d":121.52,"k":90,"g":95},{"d":121.58,"k":100,"g":105},{"d":121.64,"k":105,"g":90},{"d":121.70,"k":80,"g":60},{"d":121.75,"k":60,"g":40},{"d":121.81,"k":40,"g":20},{"d":121.86,"k":0,"g":-10},{"d":121.92,"k":-55,"g":-40},{"d":121.97,"k":-30,"g":-20},
{"d":122.03,"k":-10,"g":0},{"d":122.09,"k":-10,"g":-20},{"d":122.14,"k":0,"g":-20},{"d":122.22,"k":5,"g":-25},{"d":122.31,"k":10,"g":-30},{"d":122.38,"k":20,"g":10},{"d":122.44,"k":40,"g":30},{"d":122.48,"k":60,"g":50},{"d":122.54,"k":80,"g":80},{"d":122.60,"k":105,"g":100},{"d":122.65,"k":80,"g":90},{"d":122.71,"k":50,"g":60},{"d":122.74,"k":30,"g":20},{"d":122.77,"k":-120,"g":0},{"d":122.80,"k":-200,"g":-30},{"d":122.83,"k":-200,"g":-150},
{"d":123.35,"k":-200,"g":-200},{"d":123.38,"k":-100,"g":-150},{"d":123.40,"k":20,"g":20},{"d":123.44,"k":100,"g":80},{"d":123.50,"k":150,"g":130},{"d":123.56,"k":190,"g":190},{"d":123.62,"k":180,"g":150},{"d":123.67,"k":170,"g":110},{"d":123.73,"k":100,"g":60},{"d":123.78,"k":60,"g":30},{"d":123.84,"k":20,"g":0},{"d":123.89,"k":0,"g":-10},{"d":123.97,"k":-10,"g":-25},
{"d":124.06,"k":-20,"g":-35},{"d":124.12,"k":-30,"g":-40},{"d":124.23,"k":-40,"g":-35},{"d":124.29,"k":-30,"g":-30},{"d":124.35,"k":0,"g":20},{"d":124.40,"k":40,"g":60},{"d":124.46,"k":80,"g":80},{"d":124.52,"k":110,"g":150},{"d":124.57,"k":150,"g":230},{"d":124.62,"k":130,"g":150},{"d":124.66,"k":110,"g":100},{"d":124.72,"k":60,"g":40},{"d":124.80,"k":20,"g":-20},{"d":124.88,"k":-20,"g":-40},{"d":124.97,"k":-50,"g":-60},
{"d":125.05,"k":-60,"g":-70},{"d":125.14,"k":-70,"g":-75},{"d":125.22,"k":-50,"g":-60},{"d":125.31,"k":-20,"g":-40},{"d":125.36,"k":40,"g":40},{"d":125.42,"k":120,"g":100},{"d":125.48,"k":140,"g":180},{"d":125.53,"k":150,"g":245},{"d":125.58,"k":130,"g":160},{"d":125.61,"k":110,"g":100},{"d":125.63,"k":100,"g":-200},{"d":125.66,"k":80,"g":-200},{"d":125.72,"k":20,"g":-200},{"d":125.81,"k":-30,"g":-200},{"d":125.90,"k":-45,"g":-200},{"d":125.98,"k":-50,"g":-200},
{"d":126.03,"k":-60,"g":-200},{"d":126.09,"k":-65,"g":-200},{"d":126.15,"k":-55,"g":-200},{"d":126.21,"k":-40,"g":-200},{"d":126.30,"k":20,"g":-200},{"d":126.38,"k":100,"g":-200},{"d":126.44,"k":150,"g":-200},{"d":126.49,"k":200,"g":-200},{"d":126.55,"k":230,"g":-200},{"d":126.61,"k":265,"g":-200},{"d":126.66,"k":180,"g":-200},{"d":126.72,"k":80,"g":-200},{"d":126.78,"k":20,"g":-200},{"d":126.84,"k":-20,"g":-200},{"d":126.94,"k":-60,"g":-200},
{"d":127.00,"k":-30,"g":-200},{"d":127.05,"k":-10,"g":-200},{"d":127.12,"k":-5,"g":-200},{"d":127.17,"k":-15,"g":-200},{"d":127.24,"k":-30,"g":-200},{"d":127.28,"k":-40,"g":-200},{"d":127.35,"k":40,"g":-200},{"d":127.42,"k":110,"g":-200},{"d":127.45,"k":125,"g":-150},{"d":127.47,"k":130,"g":20},{"d":127.51,"k":135,"g":80},{"d":127.56,"k":120,"g":110},{"d":127.62,"k":100,"g":130},{"d":127.68,"k":60,"g":140},{"d":127.74,"k":30,"g":80},{"d":127.79,"k":10,"g":30},{"d":127.87,"k":-10,"g":-10},{"d":127.96,"k":-20,"g":-30},
{"d":128.05,"k":-35,"g":-40},{"d":128.12,"k":-45,"g":-50},{"d":128.18,"k":-50,"g":-60},{"d":128.25,"k":-30,"g":-40},{"d":128.30,"k":0,"g":0},{"d":128.35,"k":50,"g":60},{"d":128.40,"k":80,"g":120},{"d":128.43,"k":110,"g":160},{"d":128.48,"k":150,"g":200},{"d":128.50,"k":295,"g":200},{"d":128.53,"k":100,"g":190},{"d":128.58,"k":50,"g":150},{"d":128.63,"k":100,"g":100},{"d":128.69,"k":100,"g":60},{"d":128.75,"k":40,"g":0},{"d":128.80,"k":0,"g":-50},{"d":128.84,"k":0,"g":-80},{"d":128.86,"k":5,"g":-200},{"d":128.88,"k":10,"g":-60},{"d":128.97,"k":10,"g":-30},
{"d":129.06,"k":5,"g":-10},{"d":129.14,"k":0,"g":0},{"d":129.22,"k":10,"g":20},{"d":129.31,"k":30,"g":40},{"d":129.40,"k":35,"g":60},{"d":129.45,"k":40,"g":80},{"d":129.47,"k":40,"g":-200},{"d":129.50,"k":45,"g":90},{"d":129.53,"k":50,"g":140},{"d":129.56,"k":60,"g":180},{"d":129.60,"k":50,"g":130},{"d":129.65,"k":40,"g":90},{"d":129.71,"k":30,"g":50},{"d":129.80,"k":10,"g":10},{"d":129.88,"k":-10,"g":-10},{"d":129.95,"k":-30,"g":-30},
{"d":130.00,"k":-40,"g":-40},{"d":130.08,"k":-25,"g":-30},{"d":130.16,"k":-10,"g":-20},{"d":130.25,"k":-5,"g":-10},{"d":130.33,"k":-5,"g":0},{"d":130.40,"k":0,"g":5},{"d":130.44,"k":-200,"g":10},{"d":130.46,"k":20,"g":20},{"d":130.48,"k":-200,"g":30},{"d":130.50,"k":30,"g":40},{"d":130.52,"k":-200,"g":60},{"d":130.54,"k":40,"g":80},{"d":130.56,"k":-200,"g":-200},{"d":130.58,"k":60,"g":100},{"d":130.61,"k":80,"g":215},{"d":130.65,"k":60,"g":140},{"d":130.72,"k":10,"g":60},{"d":130.80,"k":-10,"g":20},{"d":130.89,"k":-20,"g":-20},{"d":130.96,"k":-30,"g":-50},
{"d":131.02,"k":-35,"g":-60},{"d":131.08,"k":-40,"g":-100},{"d":131.12,"k":-40,"g":-200},{"d":131.18,"k":-30,"g":-120},{"d":131.23,"k":-10,"g":-80},{"d":131.30,"k":40,"g":40},{"d":131.37,"k":100,"g":150},{"d":131.44,"k":140,"g":220},{"d":131.48,"k":150,"g":280},{"d":131.51,"k":170,"g":250},{"d":131.57,"k":120,"g":200},{"d":131.62,"k":110,"g":210},{"d":131.68,"k":100,"g":220},{"d":131.74,"k":50,"g":120},{"d":131.79,"k":10,"g":60},{"d":131.85,"k":-10,"g":20},{"d":131.91,"k":-20,"g":-20},{"d":131.97,"k":-30,"g":-35},
{"d":132.03,"k":-40,"g":-40},{"d":132.12,"k":-50,"g":-30},{"d":132.20,"k":-30,"g":-20},{"d":132.30,"k":-10,"g":40},{"d":132.36,"k":60,"g":100},{"d":132.41,"k":150,"g":170},{"d":132.47,"k":260,"g":240},{"d":132.53,"k":250,"g":200},{"d":132.59,"k":240,"g":170},{"d":132.65,"k":180,"g":130},{"d":132.71,"k":120,"g":100},{"d":132.77,"k":50,"g":40},{"d":132.82,"k":10,"g":-20},{"d":132.90,"k":-10,"g":-30},{"d":132.99,"k":-30,"g":-45},
{"d":133.05,"k":-45,"g":-50},{"d":133.10,"k":-60,"g":-40},{"d":133.18,"k":-30,"g":-20},{"d":133.26,"k":0,"g":20},{"d":133.33,"k":60,"g":100},{"d":133.40,"k":100,"g":180},{"d":133.43,"k":120,"g":220},{"d":133.48,"k":180,"g":280},{"d":133.52,"k":230,"g":350},{"d":133.54,"k":250,"g":280},{"d":133.59,"k":200,"g":260},{"d":133.66,"k":150,"g":160},{"d":133.72,"k":100,"g":100},{"d":133.77,"k":50,"g":60},{"d":133.85,"k":10,"g":10},{"d":133.94,"k":-10,"g":-20},
{"d":134.00,"k":-20,"g":-40},{"d":134.05,"k":-25,"g":-60},{"d":134.11,"k":-30,"g":-50},{"d":134.16,"k":-20,"g":-30},{"d":134.22,"k":-5,"g":0},{"d":134.28,"k":0,"g":30},{"d":134.33,"k":40,"g":60},{"d":134.40,"k":100,"g":200},{"d":134.41,"k":110,"g":355},{"d":134.46,"k":150,"g":280},{"d":134.51,"k":200,"g":200},{"d":134.57,"k":325,"g":230},{"d":134.60,"k":250,"g":250},{"d":134.65,"k":150,"g":150},{"d":134.68,"k":100,"g":100},{"d":134.72,"k":60,"g":50},{"d":134.79,"k":0,"g":0},{"d":134.85,"k":-30,"g":-20},{"d":134.90,"k":-50,"g":-40},{"d":134.95,"k":-50,"g":-60},{"d":135.00,"k":-50,"g":-60}
],
"snowK":[
{"d":105.00,"v":0.324,"seg":"a"},{"d":105.10,"v":0.315,"seg":"a"},{"d":105.18,"v":0.325,"seg":"a"},{"d":105.28,"v":0.325,"seg":"a"},{"d":105.40,"v":0.315,"seg":"a"},{"d":105.50,"v":0.31,"seg":"a"},{"d":106.00,"v":0.31,"seg":"a"},{"d":106.40,"v":0.31,"seg":"a"},{"d":106.44,"v":0.322,"seg":"a"},{"d":106.48,"v":0.31,"seg":"a"},{"d":106.76,"v":0.30,"seg":"a"},{"d":107.21,"v":0.30,"seg":"a"},{"d":107.30,"v":0.305,"seg":"a"},{"d":107.44,"v":0.305,"seg":"a"},{"d":107.50,"v":0.30,"seg":"a"},{"d":107.66,"v":0.30,"seg":"a"},{"d":107.80,"v":0.305,"seg":"a"},{"d":107.96,"v":0.31,"seg":"a"},{"d":108.40,"v":0.315,"seg":"a"},{"d":108.57,"v":0.32,"seg":"a"},{"d":108.80,"v":0.32,"seg":"a"},{"d":108.90,"v":0.31,"seg":"a"},{"d":109.00,"v":0.315,"seg":"a"},{"d":109.14,"v":0.30,"seg":"a"},{"d":109.50,"v":0.30,"seg":"a"},{"d":109.82,"v":0.295,"seg":"a"},{"d":110.10,"v":0.29,"seg":"a"},{"d":110.27,"v":0.285,"seg":"a"},{"d":110.40,"v":0.29,"seg":"a"},{"d":110.50,"v":0.295,"seg":"a"},{"d":111.41,"v":0.295,"seg":"a"},{"d":112.60,"v":0.295,"seg":"a"},{"d":112.77,"v":0.285,"seg":"a"},{"d":112.85,"v":0.295,"seg":"a"},{"d":114.35,"v":0.295,"seg":"a"},{"d":114.47,"v":0.28,"seg":"a"},{"d":114.90,"v":0.28,"seg":"a"},{"d":115.15,"v":0.275,"seg":"a"},{"d":115.30,"v":0.28,"seg":"a"},{"d":116.39,"v":0.275,"seg":"a"},{"d":116.51,"v":0.26,"seg":"a"},{"d":117.30,"v":0.262,"seg":"a"},{"d":117.35,"v":0.27,"seg":"a"},{"d":117.40,"v":0.26,"seg":"a"},{"d":118.21,"v":0.255,"seg":"a"},{"d":118.78,"v":0.255,"seg":"a"},{"d":118.89,"v":0.25,"seg":"a"},{"d":119.27,"v":0.248,"seg":"a"},{"d":119.46,"v":0.245,"seg":"a"},{"d":119.60,"v":0.235,"seg":"a"},
{"d":120.79,"v":0.20,"seg":"b"},{"d":120.90,"v":0.18,"seg":"b"},{"d":121.35,"v":0.18,"seg":"b"},{"d":121.52,"v":0.16,"seg":"b"},{"d":121.69,"v":0.13,"seg":"b"},{"d":121.86,"v":0.10,"seg":"b"},{"d":122.10,"v":0.095,"seg":"b"},{"d":122.43,"v":0.10,"seg":"b"},{"d":122.55,"v":0.085,"seg":"b"},{"d":122.65,"v":0.07,"seg":"b"},{"d":122.82,"v":0.055,"seg":"b"},{"d":123.30,"v":0.055,"seg":"b"},{"d":123.56,"v":0.05,"seg":"b"},{"d":123.66,"v":0.03,"seg":"b"},{"d":123.73,"v":0.01,"seg":"b"},{"d":123.95,"v":0.005,"seg":"b"}
],
"snowG":[
{"d":105.00,"v":0.818,"seg":"a"},{"d":105.10,"v":0.81,"seg":"a"},{"d":105.20,"v":0.80,"seg":"a"},{"d":105.28,"v":0.81,"seg":"a"},{"d":105.74,"v":0.815,"seg":"a"},{"d":106.19,"v":0.815,"seg":"a"},{"d":106.36,"v":0.80,"seg":"a"},{"d":106.53,"v":0.81,"seg":"a"},{"d":106.87,"v":0.81,"seg":"a"},{"d":107.21,"v":0.815,"seg":"a"},{"d":107.38,"v":0.80,"seg":"a"},{"d":107.55,"v":0.795,"seg":"a"},{"d":107.78,"v":0.80,"seg":"a"},{"d":108.20,"v":0.80,"seg":"a"},{"d":108.46,"v":0.81,"seg":"a"},{"d":108.68,"v":0.815,"seg":"a"},{"d":109.25,"v":0.815,"seg":"a"},{"d":109.71,"v":0.81,"seg":"a"},{"d":110.27,"v":0.815,"seg":"a"},{"d":110.44,"v":0.80,"seg":"a"},{"d":110.67,"v":0.81,"seg":"a"},{"d":111.41,"v":0.81,"seg":"a"},{"d":111.52,"v":0.80,"seg":"a"},{"d":111.75,"v":0.805,"seg":"a"},{"d":112.54,"v":0.80,"seg":"a"},{"d":112.65,"v":0.785,"seg":"a"},{"d":113.67,"v":0.785,"seg":"a"},{"d":113.80,"v":0.79,"seg":"a"},{"d":114.07,"v":0.80,"seg":"a"},{"d":114.35,"v":0.79,"seg":"a"},{"d":114.92,"v":0.795,"seg":"a"},{"d":115.49,"v":0.79,"seg":"a"},{"d":115.71,"v":0.78,"seg":"a"},{"d":116.39,"v":0.775,"seg":"a"},{"d":116.62,"v":0.765,"seg":"a"},{"d":117.19,"v":0.76,"seg":"a"},{"d":117.53,"v":0.75,"seg":"a"},{"d":118.32,"v":0.745,"seg":"a"},{"d":118.55,"v":0.73,"seg":"a"},{"d":118.89,"v":0.715,"seg":"a"},{"d":119.27,"v":0.712,"seg":"a"},{"d":119.34,"v":0.70,"seg":"a"},{"d":119.60,"v":0.70,"seg":"a"},{"d":119.94,"v":0.68,"seg":"a"},{"d":120.28,"v":0.68,"seg":"a"},{"d":120.51,"v":0.665,"seg":"a"},{"d":120.68,"v":0.64,"seg":"a"},{"d":120.79,"v":0.62,"seg":"a"},{"d":121.24,"v":0.615,"seg":"a"},{"d":121.41,"v":0.59,"seg":"a"},{"d":121.58,"v":0.565,"seg":"a"},{"d":121.75,"v":0.535,"seg":"a"},{"d":121.98,"v":0.53,"seg":"a"},{"d":122.26,"v":0.52,"seg":"a"},{"d":122.49,"v":0.50,"seg":"a"},{"d":122.65,"v":0.49,"seg":"a"},{"d":122.99,"v":0.49,"seg":"a"},{"d":123.39,"v":0.48,"seg":"a"},{"d":123.62,"v":0.455,"seg":"a"},{"d":123.73,"v":0.44,"seg":"a"},{"d":124.23,"v":0.44,"seg":"a"},{"d":124.46,"v":0.43,"seg":"a"},{"d":124.68,"v":0.405,"seg":"a"},{"d":125.25,"v":0.40,"seg":"a"},{"d":125.59,"v":0.39,"seg":"a"},{"d":125.81,"v":0.38,"seg":"a"},{"d":125.98,"v":0.385,"seg":"a"},{"d":126.26,"v":0.385,"seg":"a"},{"d":126.60,"v":0.37,"seg":"a"},{"d":126.83,"v":0.36,"seg":"a"},{"d":127.28,"v":0.36,"seg":"a"},{"d":127.51,"v":0.35,"seg":"a"},{"d":127.84,"v":0.345,"seg":"a"},{"d":128.30,"v":0.345,"seg":"a"},{"d":128.52,"v":0.33,"seg":"a"},{"d":128.75,"v":0.30,"seg":"a"},{"d":128.97,"v":0.285,"seg":"a"},{"d":129.05,"v":0.27,"seg":"a"},{"d":129.09,"v":0.26,"seg":"a"},{"d":129.14,"v":0.28,"seg":"a"},{"d":129.20,"v":0.29,"seg":"a"},{"d":129.25,"v":0.32,"seg":"a"},
{"d":129.45,"v":0.27,"seg":"b"},{"d":129.59,"v":0.28,"seg":"b"},{"d":129.88,"v":0.28,"seg":"b"},{"d":130.21,"v":0.285,"seg":"b"},{"d":130.44,"v":0.275,"seg":"b"},{"d":130.67,"v":0.265,"seg":"b"},{"d":130.80,"v":0.255,"seg":"b"},
{"d":130.95,"v":0.285,"seg":"c"},{"d":131.05,"v":0.29,"seg":"c"},{"d":131.17,"v":0.30,"seg":"c"},{"d":131.34,"v":0.275,"seg":"c"},{"d":131.57,"v":0.265,"seg":"c"},{"d":132.25,"v":0.26,"seg":"c"},{"d":132.47,"v":0.24,"seg":"c"},{"d":132.70,"v":0.205,"seg":"c"},{"d":133.26,"v":0.20,"seg":"c"},{"d":133.43,"v":0.18,"seg":"c"},{"d":133.50,"v":0.15,"seg":"c"},{"d":133.60,"v":0.12,"seg":"c"},{"d":133.71,"v":0.10,"seg":"c"},{"d":134.22,"v":0.10,"seg":"c"},{"d":134.30,"v":0.08,"seg":"c"},{"d":134.39,"v":0.06,"seg":"c"},{"d":134.62,"v":0.05,"seg":"c"},{"d":134.79,"v":0.045,"seg":"c"},{"d":134.85,"v":0.035,"seg":"c"},{"d":134.90,"v":0.02,"seg":"c"}
]
},
"vconcat":[
{
"width":1521,"height":280,
"resolve":{"axis":{"x":"independent","y":"independent"}},
"layer":[
{"data":{"values":[{}]},"mark":{"type":"rule","color":"#111","strokeWidth":2},
 "encoding":{
  "x":{"datum":105,"type":"quantitative","scale":{"domain":[105,135],"nice":false,"zero":false},
   "axis":{"orient":"top","values":[105,110,115,120,125,130,135],"format":"d","tickSize":-7,"labelPadding":12.5,"title":"Day","titleFont":"Liberation Serif, Times New Roman, serif","titleFontSize":32,"titleY":-36,"titleBaseline":"bottom"}},
  "x2":{"datum":135},
  "y":{"datum":0,"type":"quantitative","scale":{"domain":[-20,20],"nice":false,"zero":false},
   "axis":{"orient":"left","values":[-20,-10,0,10,20],"format":"d","tickSize":-10,"labelPadding":23.4,"labelFlush":true,"labelFlushOffset":8,"title":"Air temperature (°C)","titleFontSize":28,"titleAngle":270,"titleBaseline":"bottom","titleX":-89.5}}
 }},
{"data":{"name":"temp"},"mark":{"type":"line","color":"#000","strokeWidth":1.3,"clip":true},
 "encoding":{
  "x":{"field":"d","type":"quantitative","axis":{"orient":"bottom","values":[105,106,107,108,109,110,111,112,113,114,115,116,117,118,119,120,121,122,123,124,125,126,127,128,129,130,131,132,133,134,135],"tickSize":-3.5,"labels":false,"title":null}},
  "y":{"field":"k","type":"quantitative","axis":{"orient":"right","values":[-10,10],"tickSize":-10,"labels":false,"title":null}}
 }},
{"data":{"name":"temp"},"mark":{"type":"line","color":"#00e600","strokeWidth":1.3,"clip":true},
 "encoding":{
  "x":{"field":"d","type":"quantitative","axis":{"orient":"top","values":[105,106,107,108,109,110,111,112,113,114,115,116,117,118,119,120,121,122,123,124,125,126,127,128,129,130,131,132,133,134,135],"tickSize":-3.5,"labels":false,"title":null}},
  "y":{"field":"g","type":"quantitative","axis":null}
 }}
]
},
{
"width":1521,"height":280,
"resolve":{"axis":{"x":"independent","y":"independent"}},
"layer":[
{"data":{"values":[{}]},"mark":{"type":"rule","color":"#333","strokeWidth":2},
 "encoding":{
  "x":{"datum":105,"type":"quantitative","scale":{"domain":[105,135],"nice":false,"zero":false},
   "axis":{"orient":"top","values":[105,110,115,120,125,130,135],"tickSize":7,"labels":false,"title":null}},
  "x2":{"datum":135},
  "y":{"datum":0,"type":"quantitative","scale":{"domain":[0,12],"nice":false,"zero":false},"axis":null}
 }},
{"data":{"name":"wind"},"mark":{"type":"line","color":"#000","strokeWidth":1.2,"clip":true},
 "encoding":{
  "x":{"field":"d","type":"quantitative","axis":{"orient":"bottom","values":[105,106,107,108,109,110,111,112,113,114,115,116,117,118,119,120,121,122,123,124,125,126,127,128,129,130,131,132,133,134,135],"tickSize":-3.5,"labels":false,"title":null}},
  "y":{"field":"k","type":"quantitative","axis":{"orient":"right","values":[0,1,2,3,4,5,6,7,8,9,10,11,12],"format":"d","labelExpr":"datum.value % 2 ? '' : datum.label","tickSize":-8,"labelPadding":16.4,"labelFlush":true,"labelFlushOffset":8,"title":"Wind speed (ms⁻¹)","titleAngle":270,"titleBaseline":"bottom","titleX":88}}
 }},
{"data":{"name":"wind"},"mark":{"type":"line","color":"#00e600","strokeWidth":1.2,"clip":true},
 "encoding":{
  "x":{"field":"d","type":"quantitative","axis":{"orient":"bottom","values":[105,110,115,120,125,130,135],"tickSize":-7,"labels":false,"title":null}},
  "y":{"field":"g","type":"quantitative","axis":{"orient":"left","values":[1,2,3,4,5,6,7,8,9,10,11],"tickSize":-8,"labels":false,"title":null}}
 }}
]
},
{
"width":1521,"height":280,
"resolve":{"axis":{"x":"independent","y":"independent"}},
"layer":[
{"data":{"values":[{}]},"mark":{"type":"rule","color":"#111","strokeWidth":2},
 "encoding":{
  "x":{"datum":105,"type":"quantitative","scale":{"domain":[105,135],"nice":false,"zero":false},
   "axis":{"orient":"bottom","values":[105,110,115,120,125,130,135],"tickSize":-7,"labels":false,"title":null}},
  "x2":{"datum":135},
  "y":{"datum":0,"type":"quantitative","scale":{"domain":[-100,400],"nice":false,"zero":false},
   "axis":{"orient":"left","values":[-100,0,100,200,300,400],"format":"d","tickSize":-10,"labelPadding":23.4,"labelFlush":true,"labelFlushOffset":8,"title":"Sensible heat flux (Wm⁻²)","titleAngle":270,"titleBaseline":"bottom","titleX":-111}}
 }},
{"data":{"name":"flux"},"mark":{"type":"line","color":"#000","strokeWidth":1.2,"clip":true},
 "encoding":{
  "x":{"field":"d","type":"quantitative","axis":{"orient":"bottom","values":[105,106,107,108,109,110,111,112,113,114,115,116,117,118,119,120,121,122,123,124,125,126,127,128,129,130,131,132,133,134,135],"tickSize":-3.5,"labels":false,"title":null}},
  "y":{"field":"k","type":"quantitative","axis":{"orient":"right","values":[100,200,300],"tickSize":-10,"labels":false,"title":null}}
 }},
{"data":{"name":"flux"},"mark":{"type":"line","color":"#00e600","strokeWidth":1.2,"clip":true},
 "encoding":{
  "x":{"field":"d","type":"quantitative","axis":null},
  "y":{"field":"g","type":"quantitative","axis":null}
 }}
]
},
{
"width":1521,"height":280,
"resolve":{"axis":{"x":"independent","y":"independent"}},
"layer":[
{"data":{"name":"snowK"},"mark":{"type":"line","color":"#000","strokeWidth":3.5,"clip":true},
 "encoding":{
  "x":{"field":"d","type":"quantitative","scale":{"domain":[105,135],"nice":false,"zero":false},
   "axis":{"orient":"bottom","values":[105,106,107,108,109,110,111,112,113,114,115,116,117,118,119,120,121,122,123,124,125,126,127,128,129,130,131,132,133,134,135],"tickSize":-3.5,"labels":false,"title":null}},
  "y":{"field":"v","type":"quantitative","scale":{"domain":[0,1],"nice":false,"zero":false},
   "axis":{"orient":"right","values":[0,0.2,0.4,0.6,0.8,1],"format":".1f","tickSize":-10,"labelPadding":18.4,"labelFlush":true,"labelFlushOffset":8,"title":"Snow depth (m)","titleAngle":270,"titleBaseline":"bottom","titleX":96}},
  "detail":{"field":"seg"}
 }},
{"data":{"name":"snowG"},"mark":{"type":"line","color":"#00e600","strokeWidth":3.5,"clip":true},
 "encoding":{
  "x":{"field":"d","type":"quantitative","axis":{"orient":"bottom","values":[105,110,115,120,125,130,135],"format":"d","tickSize":-7,"labelPadding":23,"title":null}},
  "y":{"field":"v","type":"quantitative","axis":{"orient":"left","values":[0.2,0.4,0.6,0.8],"tickSize":-10,"labels":false,"title":null}},
  "detail":{"field":"seg"}
 }}
]
}
]
}
